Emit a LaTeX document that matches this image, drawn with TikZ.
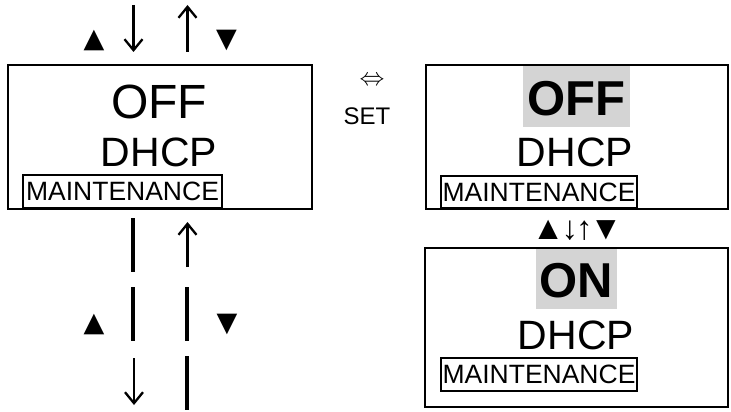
\documentclass[tikz,border=0pt]{standalone}
\usepackage{fontspec}
\setmainfont{Liberation Sans}
\newfontfamily\symfont{DejaVu Sans}
\usetikzlibrary{arrows.meta}
\tikzset{
  panel/.style={draw, line width=2.4pt, inner sep=0pt},
  mbox/.style={draw, line width=2.4pt, inner sep=0pt, font=\fontsize{26.5}{26.5}\selectfont},
  bigtxt/.style={inner sep=0pt, font=\fontsize{48}{48}\selectfont},
  boldtxt/.style={inner sep=0pt, font=\fontsize{49}{49}\selectfont\bfseries},
  midtxt/.style={inner sep=0pt, font=\fontsize{41}{41}\selectfont},
  hilite/.style={fill={rgb,255:red,212;green,212;blue,212}, inner sep=0pt},
  tri/.style={inner sep=0pt, font=\symfont\fontsize{27}{27}\selectfont},
  harrow/.style={line width=2.3pt, -{Straight Barb[length=11pt,width=18pt]}},
  bar/.style={line width=4.5pt},
}
\begin{document}
\begin{tikzpicture}[x=1pt,y=-1pt]
\useasboundingbox (0,0) rectangle (731,412);
% left panel
\node[panel, minimum width=304pt, minimum height=144pt] (p1) at (160,137) {};
\node[bigtxt] (off1) at (159,101.5) {OFF};
\node[midtxt] (dhcp1) at (159,152.5) {DHCP};
\node[mbox, minimum width=199pt, minimum height=33pt] (m1) at (122.5,191.5) {MAINTENANCE};
% right top panel
\node[panel, minimum width=302pt, minimum height=144pt] (p2) at (577,137) {};
\node[hilite, minimum width=107pt, minimum height=61pt] (g1) at (576.5,96.5) {};
\node[boldtxt] (off2) at (576.5,99) {OFF};
\node[midtxt] (dhcp2) at (575,152) {DHCP};
\node[mbox, minimum width=196pt, minimum height=32pt] (m2) at (539,192) {MAINTENANCE};
% right bottom panel
\node[panel, minimum width=303pt, minimum height=159pt] (p3) at (576.5,327.5) {};
\node[hilite, minimum width=81pt, minimum height=60pt] (g2) at (576.5,279) {};
\node[boldtxt] (on) at (576.5,280.5) {ON};
\node[midtxt] (dhcp3) at (576,335) {DHCP};
\node[mbox, minimum width=196pt, minimum height=33pt] (m3) at (539,374.5) {MAINTENANCE};
% SET
\node[inner sep=0pt, font=\fontsize{27}{27}\selectfont] (lr) at (372,81) {$\Leftrightarrow$};
\node[inner sep=0pt, font=\fontsize{24}{24}\selectfont] (set) at (367,116) {SET};
% middle keys
\node[inner sep=0pt, font=\fontsize{33}{33}\selectfont] (keys) at (577,230) {▲\kern-3pt↓\kern-2pt↑\kern-3pt▼};
% top arrows
\node[tri] (t1) at (94,40) {▲};
\node[tri] (t2) at (226.5,40) {▼};
\coordinate (a1s) at (133.5,5);
\coordinate (a1e) at (133.5,52);
\coordinate (a2s) at (187.5,52);
\coordinate (a2e) at (187.5,5);
\draw[harrow] (a1s) -- (a1e);
\draw[harrow] (a2s) -- (a2e);
% bottom arrows and bars
\node[tri] (t3) at (94,324) {▲};
\node[tri] (t4) at (227,324) {▼};
\coordinate (b1a) at (133,218); \coordinate (b1b) at (133,272);
\coordinate (b2a) at (133,287); \coordinate (b2b) at (133,341);
\coordinate (b3a) at (187,287); \coordinate (b3b) at (187,341);
\coordinate (b4a) at (187,356); \coordinate (b4b) at (187,410);
\draw[bar] (b1a) -- (b1b);
\draw[bar] (b2a) -- (b2b);
\draw[bar] (b3a) -- (b3b);
\draw[bar] (b4a) -- (b4b);
\coordinate (c1s) at (187.5,267);
\coordinate (c1e) at (187.5,222);
\coordinate (c2s) at (134,358);
\coordinate (c2e) at (134,405);
\draw[harrow] (c1s) -- (c1e);
\draw[harrow] (c2s) -- (c2e);
\end{tikzpicture}
\end{document}
